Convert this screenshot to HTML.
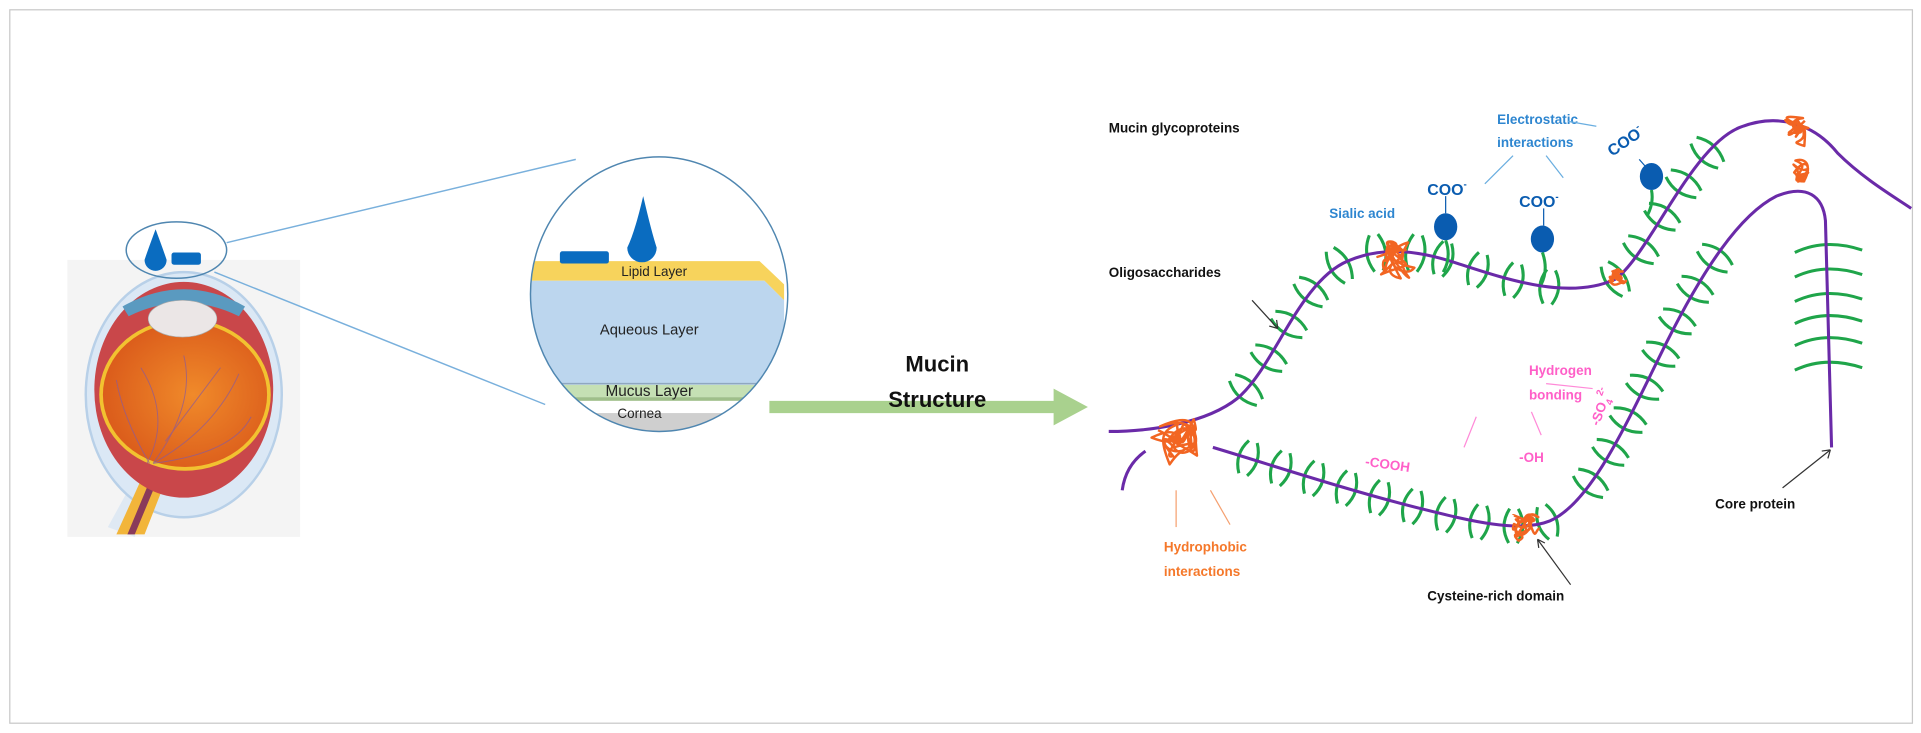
<!DOCTYPE html>
<html><head><meta charset="utf-8"><style>
html,body{margin:0;padding:0;background:#fff;}
svg{display:block;}
text{font-family:"Liberation Sans",Arial,sans-serif;}
</style></head><body>
<svg id="s" width="1921" height="733" viewBox="0 0 1568 598" preserveAspectRatio="none" xmlns="http://www.w3.org/2000/svg">
<defs>
<clipPath id="cc"><ellipse cx="538" cy="240" rx="105" ry="112"/></clipPath>
<radialGradient id="og" cx="0.55" cy="0.5" r="0.6"><stop offset="0" stop-color="#f08a2a"/><stop offset="1" stop-color="#d9581a"/></radialGradient>
</defs>
<rect x="8" y="8" width="1553" height="582" fill="#fff" stroke="#c8c8c8" stroke-width="1"/>
<!-- eye -->
<rect x="55" y="212" width="190" height="226" fill="#f4f4f4"/>
<path d="M110 438 L125 395 L110 390 L88 430 Z" fill="#dfe9f3"/>
<ellipse cx="150" cy="322" rx="80" ry="100" fill="#dbe8f5" stroke="#b8d0e8" stroke-width="2"/>
<path d="M95 436 L118 385 L138 385 L118 436 Z" fill="#f2b53a"/>
<path d="M104 436 L124 388 L130 388 L110 436 Z" fill="#8a3a5a"/>
<ellipse cx="150" cy="318" rx="73" ry="88" fill="#c9474a"/>
<path d="M100 250 Q150 222 200 250 L195 258 Q150 236 105 258Z" fill="#5a9ac0"/>
<ellipse cx="151" cy="322" rx="70" ry="62" fill="#f2c230"/>
<ellipse cx="151" cy="322" rx="67" ry="59" fill="url(#og)"/>
<ellipse cx="149" cy="260" rx="28" ry="15" fill="#ebe6e6" stroke="#aaa" stroke-width="0.5"/>
<g stroke="#8a5a9a" stroke-width="0.8" fill="none" opacity="0.7">
<path d="M120 378 Q140 340 115 300"/><path d="M125 378 Q160 330 150 290"/><path d="M125 378 Q175 350 195 305"/><path d="M125 378 Q190 370 205 340"/><path d="M122 378 Q100 340 95 310"/><path d="M135 360 Q165 320 180 300"/>
</g>
<!-- small ellipse -->
<ellipse cx="144" cy="204" rx="41" ry="23" fill="none" stroke="#4f86b0" stroke-width="1.2"/>
<path d="M127 187 Q121 203 118 212 A8 8 0 0 0 136 212 Q133 203 127 187Z" fill="#0a6cc0"/>
<rect x="140" y="206" width="24" height="10" rx="2" fill="#0a6cc0"/>
<line x1="185" y1="198" x2="470" y2="130" stroke="#79b0dc" stroke-width="1.2"/>
<line x1="175" y1="222" x2="445" y2="330" stroke="#79b0dc" stroke-width="1.2"/>
<!-- big circle -->
<g clip-path="url(#cc)">
<rect x="420" y="120" width="240" height="240" fill="#fff"/>
<polygon points="430,213 620,213 640,232 640,245 624,229 430,229" fill="#f7d35c"/>
<polygon points="430,229 624,229 640,245 640,330 624,314 430,314" fill="#bcd6ee"/>
<line x1="430" y1="313" x2="624" y2="313" stroke="#8fa7c0" stroke-width="1.2"/>
<polygon points="430,314 624,314 640,330 640,338 624,324 430,324" fill="#c5e0b4"/>
<rect x="430" y="324" width="200" height="3" fill="#9fbf8a"/>
<rect x="430" y="337" width="220" height="30" fill="#cfcfcf"/>
</g>
<ellipse cx="538" cy="240" rx="105" ry="112" fill="none" stroke="#4f86b0" stroke-width="1.2"/>
<rect x="457" y="205" width="40" height="10" rx="2" fill="#0a6cc0"/>
<path d="M525 160 Q518 190 512 202 A11 11 0 0 0 536 202 Q532 190 525 160Z" fill="#0a6cc0"/>
<text x="534" y="225" font-size="11" text-anchor="middle" fill="#222">Lipid Layer</text>
<text x="530" y="273" font-size="12" text-anchor="middle" fill="#222">Aqueous Layer</text>
<text x="530" y="323" font-size="12.5" text-anchor="middle" fill="#222">Mucus Layer</text>
<text x="522" y="341" font-size="11" text-anchor="middle" fill="#222">Cornea</text>
<!-- arrow -->
<polygon points="628,327 860,327 860,317 888,332 860,347 860,337 628,337" fill="#a9d18e"/>
<text x="765" y="303" font-size="18" font-weight="bold" text-anchor="middle" fill="#111">Mucin</text>
<text x="765" y="332" font-size="18" font-weight="bold" text-anchor="middle" fill="#111">Structure</text>
<!-- mucin -->
<g id="greens" stroke="#1fa54a" stroke-width="2.5" fill="none"></g>
<path id="p1" d="M905 352 C940 352 985 345 1010 325 C1040 300 1060 230 1100 213 C1130 200 1160 205 1190 215 C1230 228 1280 245 1318 228 C1345 210 1380 120 1420 104 C1450 92 1480 100 1500 125 C1520 145 1545 160 1560 170" fill="none" stroke="#6a2aa8" stroke-width="2.5"/>
<path id="p2" d="M990 365 C1040 380 1100 400 1160 415 C1200 425 1240 435 1265 425 C1300 410 1330 340 1360 280 C1390 220 1420 175 1450 160 C1475 150 1488 160 1490 180 L1495 365" fill="none" stroke="#6a2aa8" stroke-width="2.5"/>
<path d="M935 368 C925 375 918 385 916 400" fill="none" stroke="#6a2aa8" stroke-width="2.5"/>
<g id="oranges" stroke="#f26522" stroke-width="2" fill="none" stroke-linejoin="round"></g>
<!-- labels -->
<text x="905" y="108" font-size="11" font-weight="bold" fill="#111">Mucin glycoproteins</text>
<text x="905" y="226" font-size="11" font-weight="bold" fill="#111">Oligosaccharides</text>
<line x1="1022" y1="245" x2="1043" y2="268" stroke="#333" stroke-width="1"/><path d="M1043 268 l-7 -2 M1043 268 l-1 -7" stroke="#333" stroke-width="1"/>
<g fill="#2e86d0" font-size="11" font-weight="bold">
<text x="1222" y="101">Electrostatic</text><text x="1222" y="120">interactions</text>
<text x="1085" y="178">Sialic acid</text>
</g>
<g stroke="#6aaee0" stroke-width="1"><line x1="1235" y1="127" x2="1212" y2="150"/><line x1="1262" y1="127" x2="1276" y2="145"/><line x1="1280" y1="99" x2="1303" y2="103"/></g>
<g fill="#0a5cb0" font-size="13" font-weight="bold">
<text x="1165" y="159">COO<tspan font-size="8" dy="-6">-</tspan></text>
<text x="1240" y="169">COO<tspan font-size="8" dy="-6">-</tspan></text>
<text x="0" y="0" transform="translate(1316 128) rotate(-35)">COO<tspan font-size="8" dy="-6">-</tspan></text>
</g>
<g stroke="#0a5cb0" stroke-width="1"><line x1="1180" y1="160" x2="1180" y2="174"/><line x1="1260" y1="170" x2="1260" y2="184"/><line x1="1338" y1="130" x2="1345" y2="138"/></g>
<g fill="#0a5cb0"><ellipse cx="1180" cy="185" rx="9.5" ry="11"/><ellipse cx="1259" cy="195" rx="9.5" ry="11"/><ellipse cx="1348" cy="144" rx="9.5" ry="11"/></g>
<g stroke="#1fa54a" stroke-width="2.5" fill="none"><path d="M1180 196 Q1185 210 1178 222"/><path d="M1259 206 Q1264 220 1258 232"/><path d="M1348 155 Q1350 165 1345 175"/></g>
<g fill="#ff5fc8" font-size="11" font-weight="bold">
<text x="1248" y="306">Hydrogen</text><text x="1248" y="326">bonding</text>
<text x="1114" y="380" transform="rotate(8 1114 380)">-COOH</text>
<text x="1240" y="377">-OH</text>
<text x="0" y="0" transform="translate(1305 348) rotate(-70)">-SO<tspan font-size="8" dy="4">4</tspan><tspan font-size="8" dy="-10">2-</tspan></text>
</g>
<g stroke="#ff8ad8" stroke-width="1"><line x1="1262" y1="313" x2="1300" y2="317"/><line x1="1205" y1="340" x2="1195" y2="365"/><line x1="1250" y1="336" x2="1258" y2="355"/></g>
<g fill="#f5782a" font-size="11" font-weight="bold"><text x="950" y="450">Hydrophobic</text><text x="950" y="470">interactions</text></g>
<g stroke="#f5a070" stroke-width="1"><line x1="960" y1="400" x2="960" y2="430"/><line x1="988" y1="400" x2="1004" y2="428"/></g>
<text x="1165" y="490" font-size="11" font-weight="bold" fill="#111">Cysteine-rich domain</text>
<line x1="1282" y1="477" x2="1255" y2="440" stroke="#333" stroke-width="1"/><path d="M1255 440 l1 7 M1255 440 l6 3" stroke="#333" stroke-width="1"/>
<text x="1400" y="415" font-size="11" font-weight="bold" fill="#111">Core protein</text>
<line x1="1455" y1="398" x2="1494" y2="367" stroke="#333" stroke-width="1"/><path d="M1494 367 l-7 1 M1494 367 l-2 7" stroke="#333" stroke-width="1"/>
</svg>
<script>
(function(){
var NS="http://www.w3.org/2000/svg";
var g=document.getElementById("greens");
function arcs(id,from,to,step,len){
 var p=document.getElementById(id),L=p.getTotalLength();
 for(var s=from;s<Math.min(to,L);s+=step){
  var a=p.getPointAtLength(s),b=p.getPointAtLength(s+1);
  var dx=b.x-a.x,dy=b.y-a.y,m=Math.hypot(dx,dy)||1;dx/=m;dy/=m;
  var nx=-dy,ny=dx;
  [-1,1].forEach(function(k){
   var off=k*7;
   var cx=a.x+dx*off,cy=a.y+dy*off;
   var x1=cx-nx*len-dx*off*0.5,y1=cy-ny*len-dy*off*0.5,x2=cx+nx*len-dx*off*0.5,y2=cy+ny*len-dy*off*0.5;
   var qx=cx+dx*off*0.7,qy=cy+dy*off*0.7;
   var e=document.createElementNS(NS,"path");
   e.setAttribute("d","M"+x1+" "+y1+" Q"+qx+" "+qy+" "+x2+" "+y2);
   g.appendChild(e);
  });
 }
}
arcs("p1",120,330,32,15);
arcs("p1",335,450,30,14);
arcs("p1",480,640,32,15);
arcs("p2",30,300,28,14);
arcs("p2",330,560,30,15);
[200,220,240,258,276,296].forEach(function(y){
 var e=document.createElementNS(NS,"path");
 e.setAttribute("d","M1465 "+(y+6)+" Q1490 "+(y-6)+" 1520 "+(y+4));g.appendChild(e);
});
var o=document.getElementById("oranges");
var seed=11;function r(){seed=(seed*9301+49297)%233280;return seed/233280;}
function blob(cx,cy,R,n){
 var x=cx+(r()-0.5)*R,y=cy+(r()-0.5)*R,d="M"+x+" "+y;
 for(var i=0;i<n;i++){
  var a=r()*6.28,rr=R*(0.3+0.7*r());
  var nx=cx+Math.cos(a)*rr,ny=cy+Math.sin(a)*rr;
  var c1x=cx+(r()-0.5)*2.2*R,c1y=cy+(r()-0.5)*2.2*R,c2x=cx+(r()-0.5)*2.2*R,c2y=cy+(r()-0.5)*2.2*R;
  d+=" C"+c1x+" "+c1y+" "+c2x+" "+c2y+" "+nx+" "+ny;
 }
 var e=document.createElementNS(NS,"path");e.setAttribute("d",d);o.appendChild(e);
}
blob(962,358,24,16);blob(1140,212,19,13);blob(1318,226,10,7);blob(1468,106,14,9);blob(1470,140,11,8);blob(1242,428,16,11);
})();
</script>
</body></html>
